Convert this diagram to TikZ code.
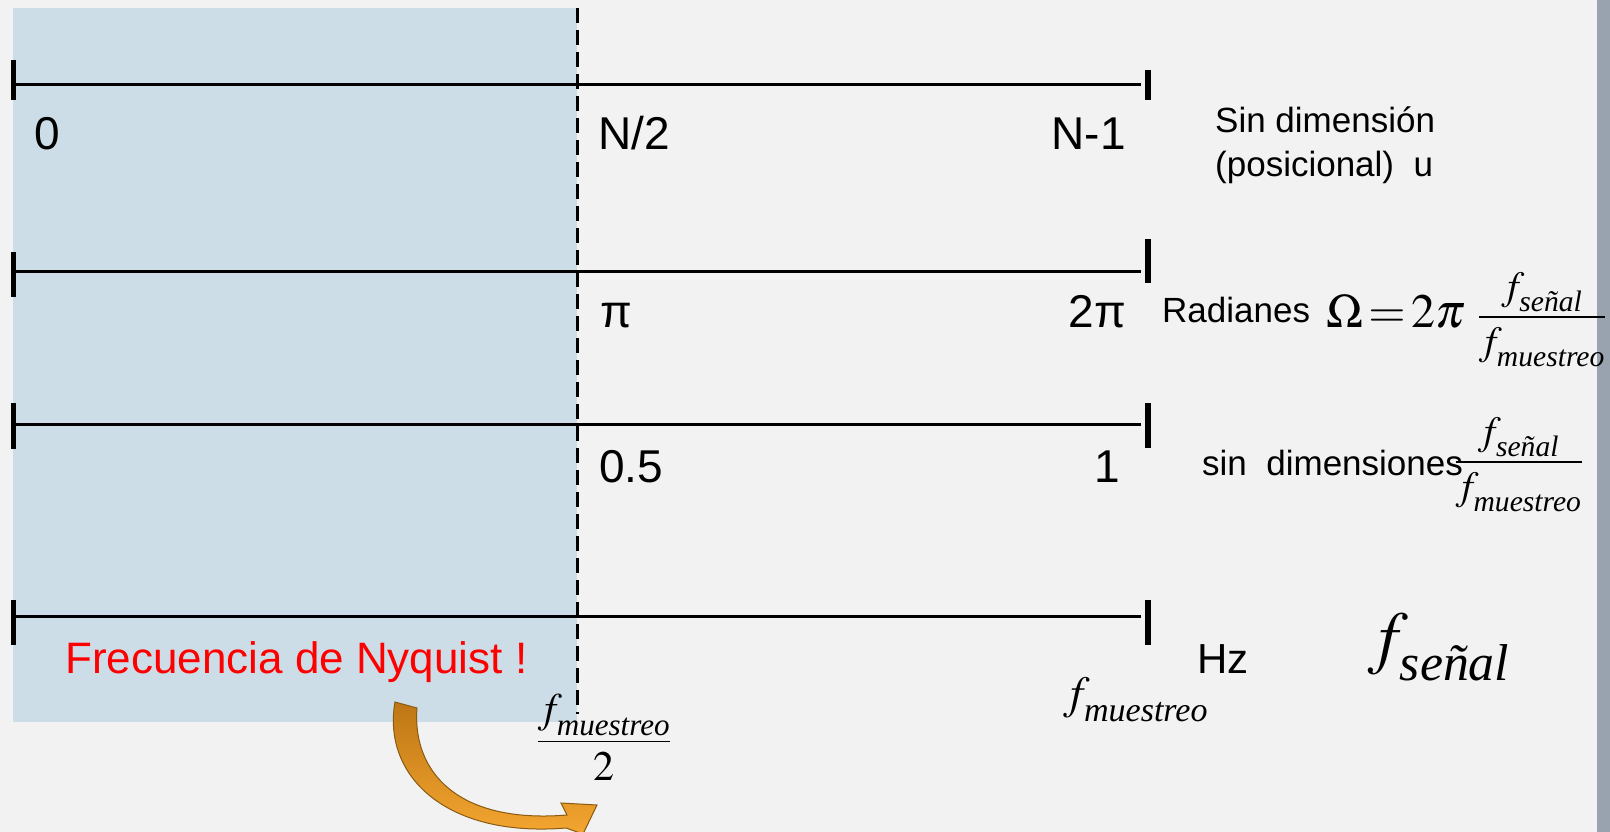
\documentclass[tikz,border=0pt]{standalone}
\usepackage{amsmath}
\usepackage{mathptmx}
\usepackage{fontspec}
\setmainfont{Liberation Serif}
\setsansfont{Liberation Sans}
\usetikzlibrary{positioning,arrows.meta,calc}
\definecolor{nbg}{HTML}{F2F2F2}
\definecolor{nstrip}{HTML}{98A3AF}
\definecolor{nyqblue}{HTML}{CCDDE8}
\definecolor{narrowlight}{HTML}{F5A731}
\definecolor{narrowmid}{HTML}{BD7614}
\definecolor{narrowline}{HTML}{8A5A12}
\newcommand{\fsub}[1]{f_{\text{\raisebox{-0.2em}{\itshape #1}}}}
\tikzset{
  axislabel/.style={font=\sffamily\fontsize{46}{50}\selectfont, inner sep=0pt},
  unitlabel/.style={font=\sffamily\fontsize{35}{40}\selectfont, inner sep=0pt},
  mathlabel/.style={inner sep=0pt},
  axisline/.style={line width=3pt},
  tickmark/.style={line width=5.5pt},
}

\begin{document}
\begin{tikzpicture}[x=1pt,y=-1pt]
 \useasboundingbox (0,0) rectangle (1610,832);
 \fill[nbg] (0,0) rectangle (1610,832);
 \fill[nstrip] (1597,0) rectangle (1610,832);
 % zona de Nyquist
 \fill[nyqblue] (13,8) rectangle (577,722);
 \coordinate (dtop) at (577,8);
 \coordinate (dbot) at (577,714);
 \draw[line width=3pt, dash pattern=on 15pt off 7pt] (dtop) -- (dbot);
 % ejes
 \foreach \r/\y in {1/85,2/271,3/424,4/616} {
   \coordinate (l\r) at (16,\y);
   \coordinate (r\r) at (1141,\y);
   \draw[axisline] (l\r) -- (r\r);
 }
 \foreach \r/\la/\lb/\ra/\rb in {1/25/15/15/15,2/19/26/32/12,3/21/25/21/24,4/16/29/16/29} {
   \draw[tickmark] ([xshift=-2.5pt,yshift=\la pt]l\r) -- ([xshift=-2.5pt,yshift=-\lb pt]l\r);
   \draw[tickmark] ([xshift=7pt,yshift=\ra pt]r\r) -- ([xshift=7pt,yshift=-\rb pt]r\r);
 }
 % fila 1
 \node[axislabel, anchor=base west] (zero) at (34,150) {0};
 \node[axislabel, anchor=base west] (nhalf) at (598,150) {N/2};
 \node[axislabel, anchor=base east] (nlast) at (1126,150) {N-1};
 \node[unitlabel, anchor=base west] (sdim) at (1215,133) {Sin dimensión};
 \node[unitlabel, anchor=base west] (posic) at (1215,177) {(posicional)\ \ u};
 % fila 2
 \node[axislabel, anchor=base west] (piv) at (600,327) {π};
 \node[axislabel, anchor=base east] (twopi) at (1126,327) {2π};
 \node[unitlabel, anchor=base west] (rad) at (1162,322) {Radianes};
 \node[mathlabel, font=\fontsize{48}{52}\selectfont, anchor=base west] (omega) at (1326,327)
   {$\Omega\!=\!2\pi$};
 \node[mathlabel, font=\fontsize{40}{44}\selectfont, anchor=base west, xshift=12pt] (omfrac) at (omega.base east)
   {$\displaystyle\frac{\fsub{señal}}{\fsub{muestreo}}$};
 % fila 3
 \node[axislabel, anchor=base west] (half) at (599,482) {0.5};
 \node[axislabel, anchor=base east] (one) at (1120,482) {1};
 \node[unitlabel, anchor=base west] (sindim) at (1202,475) {sin\ \ dimensiones};
 \node[mathlabel, font=\fontsize{40}{44}\selectfont, anchor=base west, xshift=-9pt, yshift=3pt] (ratio) at (sindim.base east)
   {$\displaystyle\frac{\fsub{señal}}{\fsub{muestreo}}$};
 % fila 4
 \node[font=\sffamily\fontsize{44}{48}\selectfont, text=red, inner sep=0pt, anchor=base west] (nyq) at (65,673) {Frecuencia de Nyquist !};
 \node[mathlabel, font=\fontsize{42}{46}\selectfont, anchor=base] (fhalf) at (604,752)
   {$\displaystyle\frac{\fsub{muestreo}}{2}$};
 \node[mathlabel, font=\fontsize{46}{50}\selectfont, anchor=base west] (fmu) at (1063,708) {$\fsub{muestreo}$};
 \node[font=\sffamily\fontsize{42}{46}\selectfont, inner sep=0pt, anchor=base west] (hz) at (1197,673) {Hz};
 \node[mathlabel, font=\fontsize{70}{74}\selectfont, anchor=base west] (fsen) at (1368,660) {$\fsub{señal}$};
 % flecha curva
 \draw[narrowline, line width=1pt, top color=narrowmid, bottom color=narrowlight]
   (395,702) .. controls (382,775) and (445,838) .. (566,828)
   -- (583,834) -- (597,805) -- (561,803) -- (567,815)
   .. controls (458,824) and (412,772) .. (417,708) -- cycle;
\end{tikzpicture}
\end{document}
